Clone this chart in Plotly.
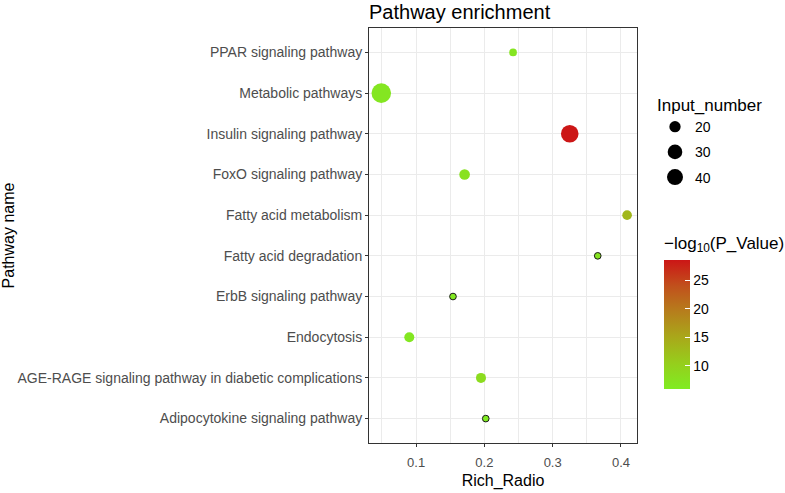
import plotly.graph_objects as go

pathways = [
    "PPAR signaling pathway",
    "Metabolic pathways",
    "Insulin signaling pathway",
    "FoxO signaling pathway",
    "Fatty acid metabolism",
    "Fatty acid degradation",
    "ErbB signaling pathway",
    "Endocytosis",
    "AGE-RAGE signaling pathway in diabetic complications",
    "Adipocytokine signaling pathway",
]
rich_ratio = [0.242, 0.049, 0.325, 0.171, 0.409, 0.366, 0.154, 0.090, 0.195, 0.202]
input_number = [9, 45, 39, 18, 15, 6, 6, 16, 16, 6]
neg_log10_p = [7.0, 6.8, 28.7, 7.6, 13.2, 7.2, 6.3, 6.6, 8.4, 5.9]
size_legend = [20, 30, 40]

FONT = "Liberation Sans, Arial, sans-serif"
colorscale = [
    [0.0, "#80EC22"],
    [0.2, "#96CE1C"],
    [0.4, "#A9A81A"],
    [0.6, "#B67E1C"],
    [0.8, "#C1501C"],
    [1.0, "#CC1616"],
]


def diam(n):
    return 4.7 + 0.33 * n


cat_order = sorted(pathways, key=str.lower)  # first entry at the bottom

fig = go.Figure()
fig.add_trace(go.Scatter(
    x=rich_ratio, y=pathways, mode="markers", showlegend=False,
    marker=dict(
        size=[diam(n) for n in input_number],
        color=neg_log10_p, colorscale=colorscale,
        opacity=1,
        line=dict(width=[1 if n < 8 else 0 for n in input_number], color="#1a1a1a"),
        colorbar=dict(
            title=dict(text="\u2212log<sub>10</sub>(P_Value)", side="top",
                       font=dict(family=FONT, size=17, color="#000")),
            x=(664 - 369) / 268, xanchor="left", xpad=0,
            y=(443 - 311) / 415, yanchor="middle", ypad=0,
            len=156, lenmode="pixels", thickness=26,
            outlinewidth=0, ticks="inside", tickcolor="white", ticklen=5,
            tickvals=[10, 15, 20, 25],
            tickfont=dict(family=FONT, size=14, color="#000"),
        ),
    ),
))

for i, n in enumerate(size_legend):
    fig.add_trace(go.Scatter(
        x=[None], y=[None], mode="markers", name=str(n),
        legendgroup=f"g{i}",
        marker=dict(size=diam(n), color="black"),
    ))

fig.update_layout(
    width=785, height=493,
    margin=dict(l=369, r=148, t=28, b=50, autoexpand=False),
    paper_bgcolor="white", plot_bgcolor="white",
    font=dict(family=FONT, color="#000"),
    title=dict(text="Pathway enrichment", x=0, xref="paper", xanchor="left",
               y=1 - 12 / 493, yref="container", yanchor="middle",
               font=dict(family=FONT, size=20, color="#000")),
    legend=dict(
        title=dict(text="Input_number", font=dict(family=FONT, size=17, color="#000")),
        x=(655 - 369) / 268, xanchor="left", y=(443 - 89) / 415, yanchor="top",
        itemsizing="trace", tracegroupgap=4,
        font=dict(family=FONT, size=14, color="#000"),
    ),
    xaxis=dict(
        range=[0.031, 0.4235], tickvals=[0.1, 0.2, 0.3, 0.4],
        ticktext=["0.1", "0.2", "0.3", "0.4"],
        showgrid=True, gridcolor="#EBEBEB", gridwidth=1,
        minor=dict(dtick=0.05, tick0=0, showgrid=True, gridcolor="#EBEBEB", gridwidth=1),
        ticks="outside", ticklen=3, tickcolor="#333", ticklabelstandoff=4,
        tickfont=dict(family=FONT, size=13, color="#4D4D4D"),
        showline=True, linecolor="#333", linewidth=1, mirror=True,
        zeroline=False, automargin=False,
        title=dict(text="Rich_Radio", font=dict(family=FONT, size=16, color="#000"), standoff=6),
    ),
    yaxis=dict(
        type="category", categoryorder="array", categoryarray=cat_order,
        range=[-0.6, 9.6],
        showgrid=True, gridcolor="#EBEBEB", gridwidth=1,
        ticks="outside", ticklen=3, tickcolor="#333",
        tickfont=dict(family=FONT, size=14, color="#4D4D4D"),
        showline=True, linecolor="#333", linewidth=1, mirror=True,
        zeroline=False, automargin=False,
        title=dict(text="Pathway name", font=dict(family=FONT, size=16, color="#000"), standoff=8),
    ),
)

fig.write_html("out.html", config={"displayModeBar": False},
               post_script="document.body.style.margin='0';")
